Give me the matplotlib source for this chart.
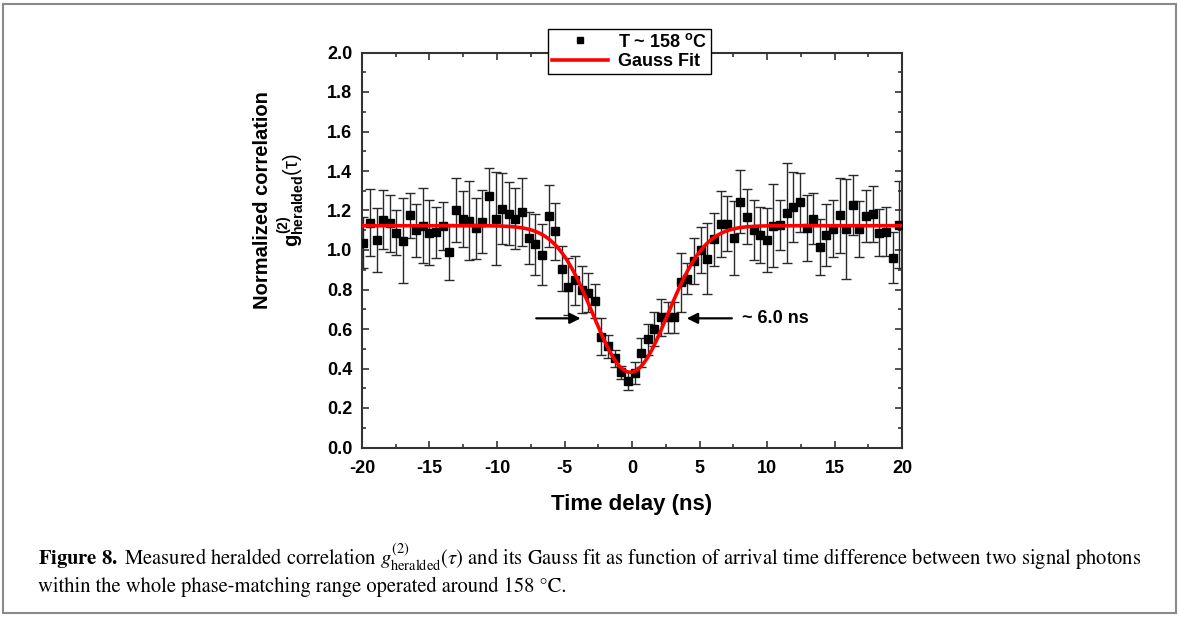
import numpy as np
import matplotlib.pyplot as plt
from matplotlib.patches import Rectangle
from matplotlib.ticker import MultipleLocator

plt.rcParams['font.family'] = ['Liberation Sans', 'DejaVu Sans']
plt.rcParams['axes.unicode_minus'] = False
plt.rcParams['mathtext.fontset'] = 'custom'
plt.rcParams['mathtext.rm'] = 'Liberation Sans:bold'
plt.rcParams['mathtext.bf'] = 'Liberation Sans:bold'
plt.rcParams['mathtext.it'] = 'Liberation Sans:bold'

# -----------------------------
# measured data (read off the figure)
# -----------------------------
delay_ns = [
    -19.9, -19.41, -18.92, -18.43, -17.94, -17.45, -16.96, -16.47, -15.98, -15.49,
    -15.0, -14.51, -14.02, -13.53, -13.04, -12.55, -12.06, -11.57, -11.08, -10.59,
    -10.1, -9.61, -9.12, -8.63, -8.14, -7.65, -7.16, -6.67, -6.18, -5.69,
    -5.2, -4.71, -4.22, -3.73, -3.24, -2.75, -2.26, -1.77, -1.28, -0.79,
    -0.3, 0.19, 0.68, 1.17, 1.66, 2.15, 2.64, 3.13, 3.62, 4.11,
    4.6, 5.09, 5.58, 6.07, 6.56, 7.05, 7.54, 8.03, 8.52, 9.01,
    9.5, 9.99, 10.48, 10.97, 11.46, 11.95, 12.44, 12.93, 13.42, 13.91,
    14.4, 14.89, 15.38, 15.87, 16.36, 16.85, 17.34, 17.83, 18.32, 18.81,
    19.3, 19.79,
]
g2 = [
    1.037, 1.139, 1.051, 1.153, 1.136, 1.088, 1.047, 1.175, 1.100, 1.124,
    1.088, 1.090, 1.122, 0.990, 1.203, 1.156, 1.149, 1.110, 1.144, 1.271,
    1.159, 1.208, 1.184, 1.158, 1.191, 1.062, 1.029, 0.976, 1.170, 1.094,
    0.905, 0.815, 0.846, 0.800, 0.784, 0.742, 0.561, 0.512, 0.451, 0.380,
    0.338, 0.379, 0.480, 0.548, 0.600, 0.659, 0.659, 0.659, 0.836, 0.855,
    0.946, 1.000, 0.956, 1.054, 1.133, 1.133, 1.062, 1.245, 1.169, 1.101,
    1.077, 1.051, 1.123, 1.126, 1.187, 1.219, 1.241, 1.113, 1.159, 1.014,
    1.077, 1.108, 1.177, 1.105, 1.228, 1.106, 1.172, 1.181, 1.088, 1.093,
    0.961, 1.127,
]
g2_err = [
    0.130, 0.170, 0.160, 0.150, 0.145, 0.115, 0.215, 0.115, 0.135, 0.190,
    0.165, 0.130, 0.120, 0.140, 0.160, 0.143, 0.200, 0.155, 0.160, 0.145,
    0.235, 0.180, 0.160, 0.155, 0.172, 0.132, 0.155, 0.154, 0.157, 0.144,
    0.114, 0.144, 0.125, 0.120, 0.100, 0.086, 0.095, 0.060, 0.045, 0.035,
    0.045, 0.055, 0.072, 0.078, 0.085, 0.095, 0.080, 0.080, 0.150, 0.080,
    0.117, 0.116, 0.180, 0.133, 0.167, 0.140, 0.187, 0.160, 0.138, 0.152,
    0.143, 0.162, 0.211, 0.125, 0.252, 0.178, 0.150, 0.167, 0.130, 0.143,
    0.157, 0.143, 0.190, 0.253, 0.152, 0.143, 0.130, 0.143, 0.120, 0.123,
    0.128, 0.220,
]

# Gauss fit parameters
FIT_Y0 = 1.123
FIT_DEPTH = 0.742
FIT_XC = -0.12
FIT_FWHM = 6.5

W, H = 1179, 617
fig = plt.figure(figsize=(W / 100, H / 100), dpi=100)
ax = fig.add_axes([362 / W, 1 - 447.5 / H, (902 - 362) / W, (447.5 - 52.5) / H])

ax.errorbar(delay_ns, g2, yerr=g2_err, fmt='none', ecolor='#2a2a2a',
            elinewidth=1.0, capsize=3.5, capthick=1.0, zorder=2)
pts, = ax.plot(delay_ns, g2, 's', color='black', markersize=6, zorder=3,
               label='T ~ 158 $^{\\mathbf{o}}$C')

sigma = FIT_FWHM / (2 * np.sqrt(2 * np.log(2)))
xf = np.linspace(-20, 20, 600)
yf = FIT_Y0 - FIT_DEPTH * np.exp(-(xf - FIT_XC) ** 2 / (2 * sigma ** 2))
fitline, = ax.plot(xf, yf, color='#ff0000', lw=2.6, zorder=4, label='Gauss Fit')

ax.set_xlim(-20, 20)
ax.set_ylim(0, 2.0)
ax.xaxis.set_major_locator(MultipleLocator(5))
ax.xaxis.set_minor_locator(MultipleLocator(2.5))
ax.yaxis.set_minor_locator(MultipleLocator(0.1))
ax.set_yticks(np.arange(0, 2.01, 0.2))
ax.set_yticklabels([f"{v:.1f}" for v in np.arange(0, 2.01, 0.2)])
ax.tick_params(which='both', direction='in', top=True, right=True,
               width=1.2, color='#333333', labelsize=13)
ax.tick_params(which='major', length=5, pad=7)
ax.tick_params(axis='x', which='major', pad=9)
ax.tick_params(which='minor', length=3)
for lab in ax.get_xticklabels() + ax.get_yticklabels():
    lab.set_fontweight('bold')
for s in ax.spines.values():
    s.set_linewidth(1.5)
    s.set_color('#333333')

ax.set_xlabel('Time delay (ns)', fontsize=16, fontweight='bold', labelpad=12)

fig.text(262 / W, 1 - 200 / H, 'Normalized correlation', rotation=90,
         ha='center', va='center', fontsize=14.5, fontweight='bold')
fig.text(291 / W, 1 - 200 / H, '$g^{(2)}_{heralded}$(τ)', rotation=90,
         ha='center', va='center', fontsize=14.5)

# width arrows
ax.annotate('', xy=(-3.6, 0.654), xytext=(-7.3, 0.654),
            arrowprops=dict(arrowstyle='-|>', color='black', lw=1.6,
                            mutation_scale=16))
ax.annotate('', xy=(3.85, 0.654), xytext=(7.6, 0.654),
            arrowprops=dict(arrowstyle='-|>', color='black', lw=1.6,
                            mutation_scale=16))
ax.text(8.15, 0.654, '~ 6.0 ns', ha='left', va='center', fontsize=13,
        fontweight='bold')

leg = ax.legend(handles=[pts, fitline], loc='upper left',
                bbox_to_anchor=(548 / W, 1 - 29 / H), bbox_transform=fig.transFigure,
                prop={'size': 13, 'weight': 'bold'}, frameon=True, fancybox=False,
                framealpha=1, edgecolor='black', borderpad=0.2, labelspacing=0.15,
                handlelength=3.1, handletextpad=0.6, borderaxespad=0,
                markerscale=0.8)
leg.get_frame().set_linewidth(1.0)
leg.set_zorder(10)

# caption and frame
cap_kw = dict(family='STIXGeneral', math_fontfamily='stix', fontsize=14.8,
              fontweight='normal', ha='left', va='baseline')
fig.text(38 / W, 1 - 566 / H,
         r'$\mathbf{Figure\ 8.}$ Measured heralded correlation '
         r'$g^{(2)}_{\mathrm{heralded}}(\tau)$ and its Gauss fit as function of arrival '
         r'time difference between two signal photons', **cap_kw)
fig.text(38 / W, 1 - 592 / H,
         'within the whole phase-matching range operated around 158 °C.', **cap_kw)

fig.add_artist(Rectangle((3 / W, 4 / H), (W - 6) / W, (H - 8) / H,
                         transform=fig.transFigure, fill=False,
                         edgecolor='#8a8a8a', lw=1.5))

fig.savefig('out.png', dpi=100)
